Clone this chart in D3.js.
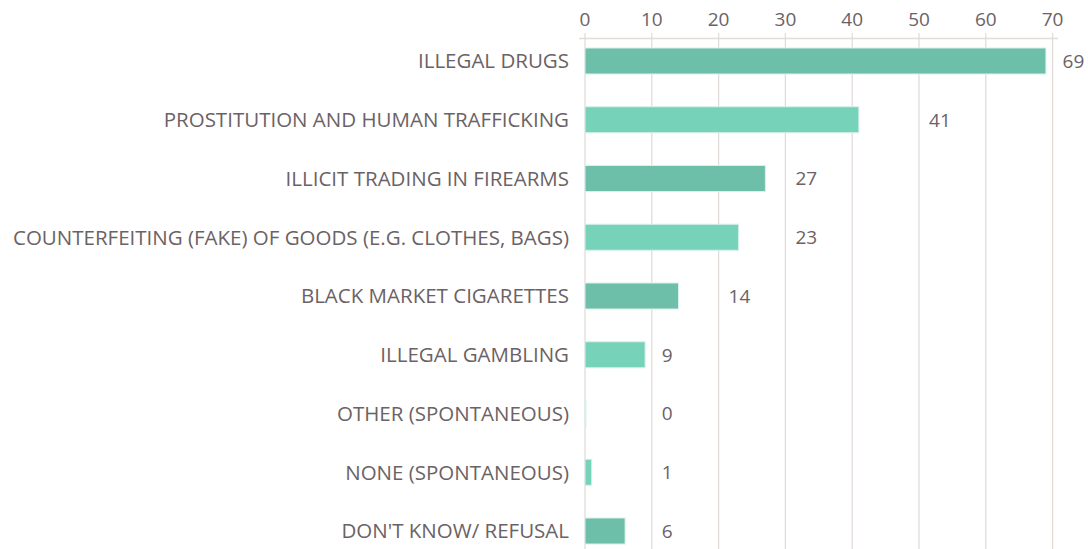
<!DOCTYPE html>
<html><head><meta charset="utf-8">
<script src="https://cdn.jsdelivr.net/npm/d3@7"></script>
<style>body{margin:0;background:#fff}svg{display:block}text{font-family:"Open Sans",sans-serif;fill:#6b6265}</style>
</head><body><svg id="c" width="1088" height="549"></svg>
<script>
const categories = ["ILLEGAL DRUGS","PROSTITUTION AND HUMAN TRAFFICKING","ILLICIT TRADING IN FIREARMS","COUNTERFEITING (FAKE) OF GOODS (E.G. CLOTHES, BAGS)","BLACK MARKET CIGARETTES","ILLEGAL GAMBLING","OTHER (SPONTANEOUS)","NONE (SPONTANEOUS)","DON'T KNOW/ REFUSAL"];
const values = [69,41,27,23,14,9,0,1,6];
const ticks = [0,10,20,30,40,50,60,70];
const colors = ["#6dbfa9","#76d3b9"];

const svg = d3.select("#c");
const x = d3.scaleLinear().domain([0,70]).range([585,1052.6]);
const y = d3.scalePoint().domain(categories).range([61,531]);
const barH = 26;

svg.append("g").selectAll("line").data(ticks).join("line")
  .attr("x1",d=>x(d)).attr("x2",d=>x(d)).attr("y1",33).attr("y2",549)
  .attr("stroke","#e2dcd9").attr("stroke-width",1.3);
svg.append("line").attr("x1",579).attr("x2",1058).attr("y1",38.5).attr("y2",38.5)
  .attr("stroke","#e2dcd9").attr("stroke-width",1.3);
svg.append("g").selectAll("text").data(ticks).join("text")
  .attr("x",d=>x(d)).attr("y",26).attr("text-anchor","middle")
  .attr("font-size",19).text(d=>d);
svg.append("g").selectAll("rect").data(values).join("rect")
  .attr("x",x(0)).attr("y",(d,i)=>y(categories[i])-barH/2)
  .attr("width",d=>Math.max(x(d)-x(0),1)).attr("height",barH)
  .attr("fill",(d,i)=>colors[i%2]).attr("stroke","#d8f0ea").attr("stroke-width",1);
svg.append("g").selectAll("text").data(categories).join("text")
  .attr("x",569).attr("y",d=>y(d)).attr("dy","0.36em").attr("text-anchor","end")
  .attr("font-size",20.5).text(d=>d);
svg.append("g").selectAll("text").data(values).join("text")
  .attr("x",d=>x(Math.max(10,Math.ceil(d/10)*10)+1.5)).attr("y",(d,i)=>y(categories[i]))
  .attr("dy","0.36em").attr("font-size",19).text(d=>d);
</script></body></html>
